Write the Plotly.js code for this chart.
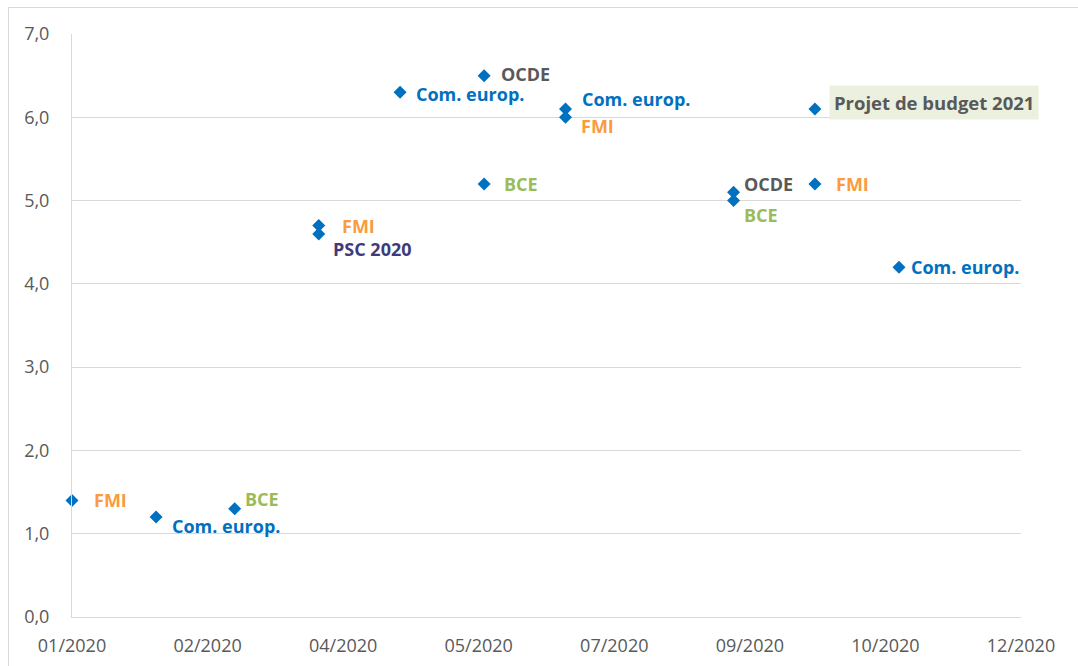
<!DOCTYPE html>
<html><head><meta charset="utf-8">
<script src="https://cdn.plot.ly/plotly-3.0.1.min.js"></script>
<style>html,body{margin:0;padding:0;background:#fff;}#chart{width:1078px;height:666px;}</style>
</head><body><div id="chart"></div>
<script>
// Data
const dates   = ['2020-01-01','2020-02-01','2020-03-01','2020-04-01','2020-04-01','2020-05-01','2020-06-01','2020-06-01','2020-07-01','2020-07-01','2020-09-01','2020-09-01','2020-10-01','2020-10-01','2020-11-01'];
const values  = [1.4,1.2,1.3,4.7,4.6,6.3,6.5,5.2,6.1,6.0,5.1,5.0,6.1,5.2,4.2];
const sources = ['FMI','Com. europ.','BCE','FMI','PSC 2020','Com. europ.','OCDE','BCE','Com. europ.','FMI','OCDE','BCE','Projet de budget 2021','FMI','Com. europ.'];
const tickDates  = ['2020-01-01','2020-02-20','2020-04-10','2020-05-30','2020-07-19','2020-09-07','2020-10-27','2020-12-16'];
const tickLabels = ['01/2020','02/2020','04/2020','05/2020','07/2020','09/2020','10/2020','12/2020'];

// Styling (not data)
const sourceColor = {'FMI':'#F99B3E','Com. europ.':'#0070C0','BCE':'#9BBB59','OCDE':'#595959','PSC 2020':'#3F3A7A','Projet de budget 2021':'#595959'};
const labelShift = [[20,0],[14,-9],[8,10],[21,0],[12,-15],[14,-2],[15,2],[18,0],[15,10],[14,-9],[8,8],[8,-14],[14,6],[19,0],[10,0]];

const annotations = dates.map((d,i)=>{
  const a = {
    x:d, y:values[i], xref:'x', yref:'y', text:sources[i], showarrow:false,
    xanchor:'left', yanchor:'middle', xshift:labelShift[i][0], yshift:labelShift[i][1],
    font:{family:'Open Sans, sans-serif', size:18, color:sourceColor[sources[i]], weight:'bold'}
  };
  if (sources[i]==='Projet de budget 2021') { a.bgcolor='#EBF1DE'; a.borderpad=4; a.font.size=18.5; }
  return a;
});

const trace = {
  x:dates, y:values, type:'scatter', mode:'markers', cliponaxis:false,
  marker:{symbol:'diamond', size:10, color:'#0070C0'}, hoverinfo:'x+y'
};

const layout = {
  width:1078, height:666,
  margin:{l:72, r:57, t:34, b:49, pad:0},
  paper_bgcolor:'#fff', plot_bgcolor:'#fff',
  separators:', ',
  showlegend:false,
  font:{family:'Open Sans, sans-serif', color:'#595959'},
  xaxis:{
    type:'date', range:['2020-01-01','2020-12-16'],
    tickmode:'array', tickvals:tickDates, ticktext:tickLabels,
    showgrid:false, zeroline:false, showline:true, linecolor:'#D9D9D9', linewidth:1,
    ticks:'outside', ticklen:12, tickcolor:'rgba(0,0,0,0)',
    tickfont:{size:18, color:'#595959', family:'Open Sans, sans-serif'}
  },
  yaxis:{
    range:[0,7], dtick:1, tick0:0, tickformat:'.1f',
    showgrid:true, gridcolor:'#D9D9D9', gridwidth:1, zeroline:false,
    showline:true, linecolor:'#D9D9D9', linewidth:1,
    ticks:'outside', ticklen:18, tickcolor:'rgba(0,0,0,0)',
    tickfont:{size:18, color:'#595959', family:'Open Sans, sans-serif'}
  },
  annotations:annotations,
  shapes:[
    {type:'line', xref:'paper', yref:'paper', x0:(8-72)/949, x1:(1078-72)/949, y0:1+(34-7.5)/583, y1:1+(34-7.5)/583, line:{color:'#D9D9D9', width:1}},
    {type:'line', xref:'paper', yref:'paper', x0:(8.5-72)/949, x1:(8.5-72)/949, y0:1+(34-7.5)/583, y1:-(666-617)/583, line:{color:'#D9D9D9', width:1}}
  ]
};

Plotly.newPlot('chart',[trace],layout,{displayModeBar:false, staticPlot:true});
</script>
</body></html>
